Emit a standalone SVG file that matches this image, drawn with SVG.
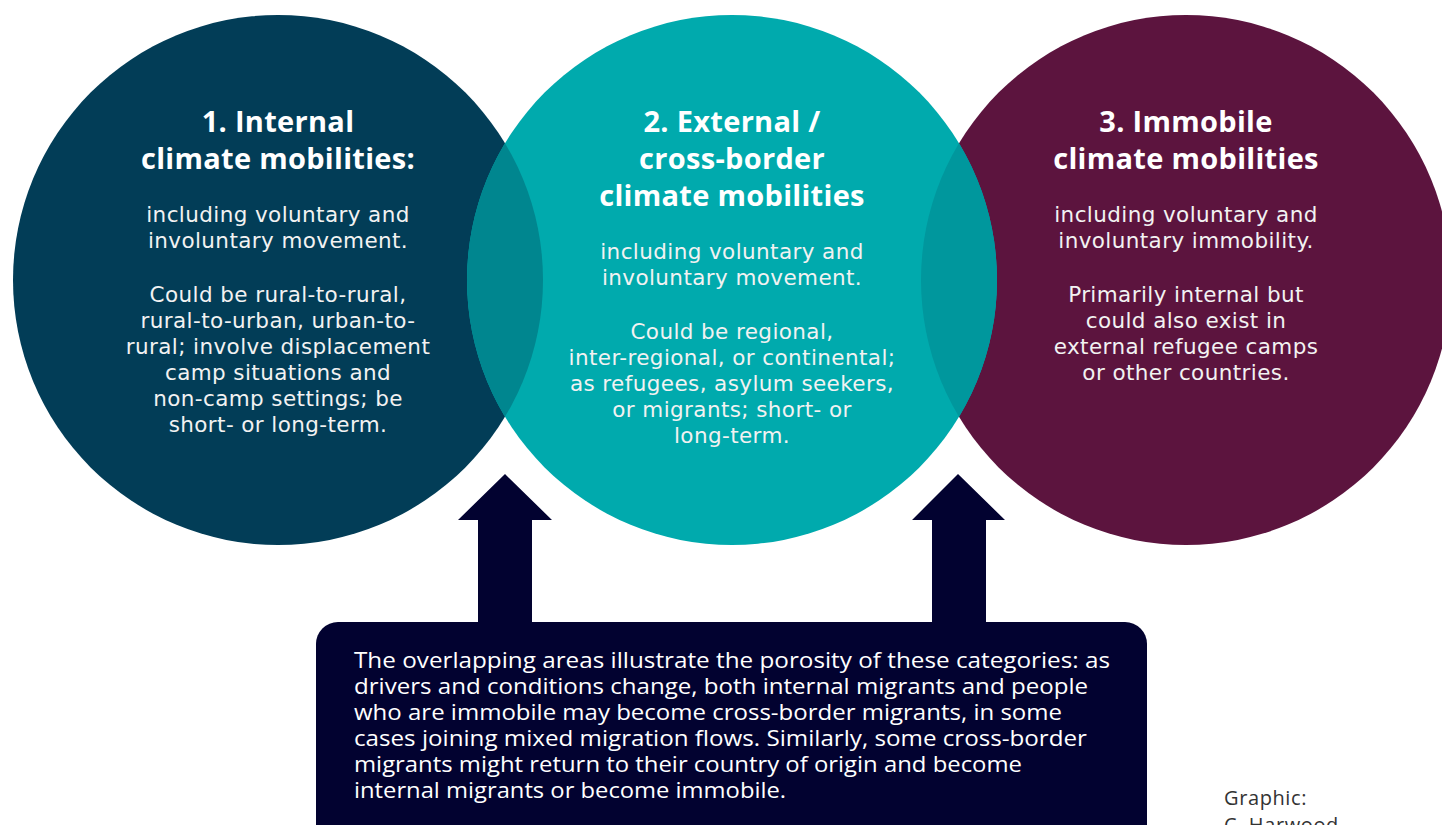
<svg xmlns="http://www.w3.org/2000/svg" width="1442" height="825" viewBox="0 0 1442 825">
  <style>
    .title { font-family: "Open Sans", "Noto Sans", sans-serif; font-weight: 700; font-size: 29px; letter-spacing: 0.3px; fill: #ffffff; text-anchor: middle; }
    .body { font-family: "DejaVu Sans", "Open Sans", sans-serif; font-size: 21.5px; letter-spacing: 0.4px; fill: #f2f2f2; text-anchor: middle; }
    .note { font-family: "Open Sans", "Noto Sans", sans-serif; font-size: 21px; fill: #ffffff; }
    .credit { font-family: "Open Sans", "Noto Sans", sans-serif; font-size: 20px; letter-spacing: 0.6px; fill: #333333; }
    .arrow { fill: #020230; }
  </style>
  <defs>
    <clipPath id="clipMid"><circle cx="732" cy="280" r="265"/></clipPath>
  </defs>
  <rect width="1442" height="825" fill="#ffffff"/>

  <!-- circles -->
  <g id="internal">
    <circle cx="278" cy="280" r="265" fill="#023d57"/>
  </g>
  <g id="immobile">
    <circle cx="1186" cy="280" r="265" fill="#5c143e"/>
  </g>
  <g id="external">
    <circle cx="732" cy="280" r="265" fill="#00aaad"/>
    <!-- overlap lenses -->
    <circle cx="278" cy="280" r="265" fill="#00868f" clip-path="url(#clipMid)"/>
    <circle cx="1186" cy="280" r="265" fill="#00979d" clip-path="url(#clipMid)"/>
  </g>

  <!-- circle texts -->
  <g id="internal-text">
    <text class="title" x="278" y="132">1. Internal<tspan x="278" dy="37">climate mobilities:</tspan></text>
    <text class="body" x="278" y="222">including voluntary and<tspan x="278" dy="26">involuntary movement.</tspan></text>
    <text class="body" x="278" y="302">Could be rural-to-rural,<tspan x="278" dy="26">rural-to-urban, urban-to-</tspan><tspan x="278" dy="26">rural; involve displacement</tspan><tspan x="278" dy="26">camp situations and</tspan><tspan x="278" dy="26">non-camp settings; be</tspan><tspan x="278" dy="26">short- or long-term.</tspan></text>
  </g>
  <g id="external-text">
    <text class="title" x="732" y="132">2. External /<tspan x="732" dy="37">cross-border</tspan><tspan x="732" dy="37">climate mobilities</tspan></text>
    <text class="body" x="732" y="259">including voluntary and<tspan x="732" dy="26">involuntary movement.</tspan></text>
    <text class="body" x="732" y="339">Could be regional,<tspan x="732" dy="26">inter-regional, or continental;</tspan><tspan x="732" dy="26">as refugees, asylum seekers,</tspan><tspan x="732" dy="26">or migrants; short- or</tspan><tspan x="732" dy="26">long-term.</tspan></text>
  </g>
  <g id="immobile-text">
    <text class="title" x="1186" y="132">3. Immobile<tspan x="1186" dy="37">climate mobilities</tspan></text>
    <text class="body" x="1186" y="222">including voluntary and<tspan x="1186" dy="26">involuntary immobility.</tspan></text>
    <text class="body" x="1186" y="302">Primarily internal but<tspan x="1186" dy="26">could also exist in</tspan><tspan x="1186" dy="26">external refugee camps</tspan><tspan x="1186" dy="26">or other countries.</tspan></text>
  </g>

  <!-- connectors: upward block arrows -->
  <g id="connectors">
    <polygon class="arrow" points="505,474 552,520 532,520 532,630 478,630 478,520 458,520"/>
    <polygon class="arrow" points="958,474 1005,520 986,520 986,630 932,630 932,520 912,520"/>
  </g>

  <!-- explanatory note -->
  <g id="note">
    <rect x="316" y="622" width="831" height="240" rx="22" fill="#020230"/>
    <text class="note" x="354" y="668" textLength="756" lengthAdjust="spacingAndGlyphs">The overlapping areas illustrate the porosity of these categories: as</text>
    <text class="note" x="354" y="694" textLength="734" lengthAdjust="spacingAndGlyphs">drivers and conditions change, both internal migrants and people</text>
    <text class="note" x="354" y="720" textLength="708" lengthAdjust="spacingAndGlyphs">who are immobile may become cross-border migrants, in some</text>
    <text class="note" x="354" y="746" textLength="733" lengthAdjust="spacingAndGlyphs">cases joining mixed migration flows. Similarly, some cross-border</text>
    <text class="note" x="354" y="772" textLength="668" lengthAdjust="spacingAndGlyphs">migrants might return to their country of origin and become</text>
    <text class="note" x="354" y="798" textLength="432" lengthAdjust="spacingAndGlyphs">internal migrants or become immobile.</text>
  </g>

  <g id="credit">
    <text class="credit" x="1224" y="805">Graphic:<tspan x="1224" dy="27">C. Harwood</tspan></text>
  </g>
</svg>
